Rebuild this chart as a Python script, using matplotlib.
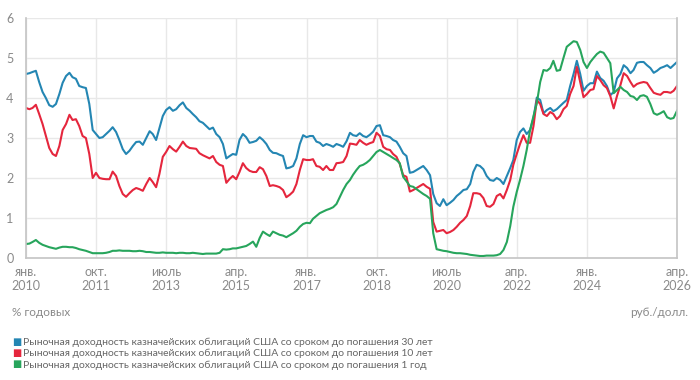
import matplotlib
matplotlib.use("Agg")
import matplotlib.pyplot as plt
import pandas as pd

plt.rcParams['font.family'] = ['Lato', 'DejaVu Sans']

dates = pd.date_range('2010-01-01', periods=196, freq='MS')

y30 = [
    4.60, 4.62, 4.65, 4.68, 4.40, 4.15, 4.00, 3.82, 3.78, 3.85, 4.10, 4.38,
    4.55, 4.63, 4.52, 4.48, 4.30, 4.27, 4.25, 3.85, 3.20, 3.10, 3.00, 3.02,
    3.10, 3.18, 3.27, 3.15, 2.95, 2.72, 2.60, 2.68, 2.80, 2.90, 2.91, 2.83,
    3.00, 3.17, 3.10, 2.95, 3.25, 3.55, 3.70, 3.77, 3.68, 3.72, 3.82, 3.89,
    3.75, 3.68, 3.60, 3.52, 3.42, 3.38, 3.30, 3.22, 3.26, 3.10, 3.02, 2.85,
    2.49, 2.55, 2.60, 2.58, 2.95, 3.10, 3.02, 2.88, 2.90, 2.93, 3.02, 2.95,
    2.85, 2.70, 2.63, 2.62, 2.58, 2.55, 2.24, 2.26, 2.30, 2.49, 2.85, 3.07,
    3.02, 3.05, 3.05, 2.91, 2.88, 2.80, 2.85, 2.82, 2.78, 2.85, 2.82, 2.78,
    2.92, 3.13, 3.07, 3.05, 3.12, 3.05, 3.02, 3.08, 3.16, 3.30, 3.32, 3.07,
    3.05, 3.02, 2.95, 2.91, 2.78, 2.62, 2.55, 2.13, 2.15, 2.20, 2.25, 2.30,
    2.20, 2.07, 1.60, 1.37, 1.30, 1.47, 1.32, 1.38, 1.45, 1.55, 1.62, 1.70,
    1.72, 1.85, 2.15, 2.33, 2.30, 2.22, 2.05, 1.95, 1.93, 2.00, 1.95, 1.85,
    2.05, 2.25, 2.45, 2.95, 3.15, 3.24, 3.10, 3.20, 3.50, 4.01, 3.95, 3.62,
    3.70, 3.75, 3.67, 3.72, 3.80, 3.88, 3.95, 4.30, 4.60, 4.93, 4.60, 4.18,
    4.30, 4.37, 4.37, 4.66, 4.50, 4.43, 4.30, 4.07, 4.15, 4.49, 4.60, 4.82,
    4.75, 4.62, 4.70, 4.88, 4.90, 4.90, 4.82, 4.75, 4.63, 4.68, 4.75, 4.78,
    4.82, 4.75, 4.82, 4.90,
]

y10 = [
    3.75, 3.72, 3.75, 3.83, 3.60, 3.35, 3.05, 2.75, 2.60, 2.55, 2.80, 3.20,
    3.35, 3.58, 3.45, 3.47, 3.30, 3.05, 3.00, 2.60, 2.00, 2.13, 2.00, 1.98,
    1.97, 1.97, 2.16, 2.05, 1.80, 1.60, 1.53, 1.62, 1.70, 1.75, 1.72, 1.68,
    1.85, 2.00, 1.90, 1.77, 2.10, 2.53, 2.65, 2.80, 2.72, 2.66, 2.78, 2.91,
    2.80, 2.75, 2.74, 2.73, 2.62, 2.57, 2.53, 2.49, 2.55, 2.40, 2.33, 2.30,
    1.88, 1.98, 2.05, 1.97, 2.15, 2.37, 2.25, 2.18, 2.15, 2.15, 2.27, 2.22,
    2.05, 1.80, 1.82, 1.80, 1.77, 1.70, 1.52, 1.58, 1.66, 1.85, 2.20, 2.47,
    2.45, 2.45, 2.47, 2.30, 2.28, 2.20, 2.30, 2.20, 2.20, 2.37, 2.38, 2.40,
    2.55, 2.86, 2.85, 2.83, 2.95, 2.88, 2.83, 2.87, 2.90, 3.13, 3.05, 2.78,
    2.72, 2.70, 2.60, 2.53, 2.35, 2.07, 2.03, 1.66, 1.70, 1.75, 1.80, 1.85,
    1.78, 1.73, 0.90, 0.66, 0.68, 0.70, 0.62, 0.65, 0.70, 0.78, 0.88, 0.95,
    1.05, 1.30, 1.62, 1.62, 1.60, 1.50, 1.30, 1.28, 1.35, 1.55, 1.60, 1.49,
    1.70, 1.95, 2.33, 2.60, 2.85, 3.07, 2.88, 2.88, 3.30, 3.95, 3.85, 3.60,
    3.55, 3.65, 3.60, 3.47, 3.55, 3.72, 3.80, 4.10, 4.30, 4.78, 4.40, 4.02,
    4.10, 4.20, 4.22, 4.55, 4.45, 4.32, 4.25, 4.05, 3.74, 4.05, 4.32, 4.62,
    4.55, 4.40, 4.28, 4.35, 4.38, 4.40, 4.38, 4.25, 4.13, 4.10, 4.08, 4.15,
    4.15, 4.13, 4.18, 4.30,
]

y1 = [
    0.35, 0.36, 0.40, 0.45, 0.38, 0.33, 0.30, 0.27, 0.25, 0.23, 0.26, 0.28,
    0.28, 0.27, 0.27, 0.25, 0.22, 0.20, 0.18, 0.15, 0.12, 0.12, 0.12, 0.12,
    0.13, 0.15, 0.18, 0.18, 0.19, 0.18, 0.18, 0.18, 0.17, 0.17, 0.18, 0.17,
    0.15, 0.15, 0.14, 0.13, 0.13, 0.14, 0.13, 0.13, 0.13, 0.12, 0.13, 0.13,
    0.12, 0.12, 0.13, 0.12, 0.11, 0.10, 0.11, 0.11, 0.11, 0.11, 0.13, 0.22,
    0.21, 0.22, 0.24, 0.24, 0.26, 0.28, 0.30, 0.35, 0.41, 0.28, 0.50, 0.66,
    0.60, 0.55, 0.66, 0.62, 0.58, 0.56, 0.52, 0.57, 0.62, 0.68, 0.78, 0.85,
    0.88, 0.87, 0.98, 1.05, 1.12, 1.16, 1.20, 1.23, 1.27, 1.35, 1.53, 1.70,
    1.85, 1.95, 2.08, 2.20, 2.30, 2.33, 2.38, 2.45, 2.55, 2.65, 2.70, 2.65,
    2.60, 2.55, 2.50, 2.45, 2.37, 2.03, 1.92, 1.80, 1.78, 1.72, 1.66, 1.60,
    1.55, 1.48, 0.62, 0.22, 0.20, 0.18, 0.17, 0.15, 0.13, 0.12, 0.12, 0.11,
    0.10, 0.08, 0.07, 0.06, 0.05, 0.05, 0.06, 0.06, 0.06, 0.07, 0.10, 0.20,
    0.40, 0.80, 1.28, 1.65, 1.95, 2.30, 2.70, 3.20, 3.55, 3.87, 4.40, 4.70,
    4.68, 4.75, 4.93, 4.68, 4.70, 5.00, 5.28, 5.35, 5.42, 5.40, 5.20, 4.90,
    4.75, 4.90, 5.00, 5.10, 5.16, 5.13, 5.00, 4.87, 4.12, 4.20, 4.28, 4.20,
    4.15, 4.05, 4.03, 3.95, 4.05, 4.07, 4.03, 3.85, 3.62, 3.58, 3.62, 3.67,
    3.52, 3.48, 3.50, 3.68,
]

tick_dates = ['2010-01-01', '2011-10-01', '2013-07-01', '2015-04-01', '2017-01-01',
              '2018-10-01', '2020-07-01', '2022-04-01', '2024-01-01', '2026-04-01']
tick_labels = ['янв.\n2010', 'окт.\n2011', 'июль\n2013', 'апр.\n2015', 'янв.\n2017',
               'окт.\n2018', 'июль\n2020', 'апр.\n2022', 'янв.\n2024', 'апр.\n2026']
y_ticks = [0, 1, 2, 3, 4, 5, 6]

series_names = [
    'Рыночная доходность казначейских облигаций США со сроком до погашения 30 лет',
    'Рыночная доходность казначейских облигаций США со сроком до погашения 10 лет',
    'Рыночная доходность казначейских облигаций США со сроком до погашения 1 год',
]
colors = ['#2486b3', '#e5263d', '#27a55c']

fig = plt.figure(figsize=(7, 3.8), dpi=100)
ax = fig.add_axes([26/700, 1-258/380, (677-26)/700, 240/380])

for vals, c in zip([y30, y10, y1], colors):
    ax.plot(dates, vals, color=c, lw=1.5, solid_joinstyle='round')

ax.set_ylim(0, 6)
ax.set_xlim(pd.Timestamp('2010-01-01'), pd.Timestamp('2026-04-01'))
ax.set_yticks(y_ticks)
ax.set_xticks(pd.to_datetime(tick_dates))
ax.set_xticklabels(tick_labels)
ax.grid(True, color='#e8e8e8', lw=1)
ax.set_axisbelow(True)
ax.spines['top'].set_visible(False)
for s in ['left', 'bottom', 'right']:
    ax.spines[s].set_color('#c4c4c4')
    ax.spines[s].set_linewidth(1.2)
ax.tick_params(axis='both', colors='#c4c4c4', labelcolor='#8a8a8a', labelsize=9, length=0)
ax.tick_params(axis='x', pad=6)
ax.tick_params(axis='y', pad=9)

fig.text(12/700, 1-313/380, '% годовых', fontsize=8.5, color='#8a8a8a', va='center', ha='left')
fig.text(688/700, 1-313/380, 'руб./долл.', fontsize=8.5, color='#8a8a8a', va='center', ha='right')

for i, (name, c) in enumerate(zip(series_names, colors)):
    yy = 1 - (342 + i*11.5)/380
    fig.text(12/700, yy, '■', fontsize=7, color=c, va='center', ha='left')
    fig.text(23/700, yy, name, fontsize=7.5, color='#666666', va='center', ha='left')

fig.savefig('out.png', dpi=100)
